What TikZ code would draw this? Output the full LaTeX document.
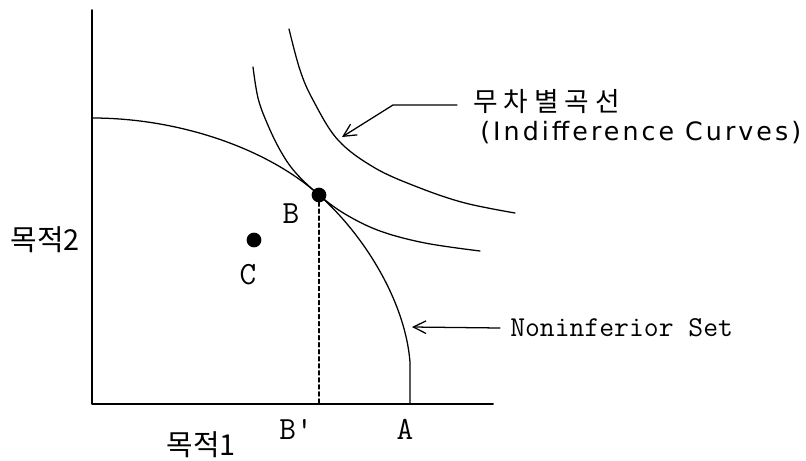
\documentclass[tikz,border=0pt]{standalone}
\usepackage{fontspec}
\newfontfamily\kofont{Noto Sans CJK KR}
\newfontfamily\capfont[LetterSpace=12]{DejaVu Sans}
\usepackage{tikz}
\usetikzlibrary{arrows.meta, calc}

\begin{document}
\begin{tikzpicture}[x=0.025cm, y=-0.025cm, line cap=round, line join=round, >={Straight Barb[length=9pt, width=9pt]}]

  \tikzset{
    axisline/.style={line width=1.4pt},
    curveline/.style={line width=0.9pt},
    ptlabel/.style={inner sep=0pt, font=\ttfamily\fontsize{23}{26}\selectfont},
    kolabel/.style={inner sep=0pt, font=\kofont\fontsize{20.5}{24}\selectfont},
    dot/.style={circle, fill, inner sep=0pt, minimum size=10.5pt}
  }

  \useasboundingbox (0,0) rectangle (806,460);

  % Key points
  \coordinate (O)    at (92,404);
  \coordinate (ytop) at (92,10);
  \coordinate (xend) at (493,404);
  \coordinate (B)    at (319,195);
  \coordinate (Bp)   at (319,404);
  \coordinate (A)    at (410,404);

  % Axes
  \draw[axisline] (ytop) -- (O) -- (xend);

  % Noninferior set
  \draw[curveline] (92,118) .. controls (180,118) and (268,149) .. (B)
                   .. controls (363,234) and (405,300) .. (410,362) -- (A);

  % Indifference curves (inner touches the set at B, outer lies beyond)
  \draw[curveline] plot[smooth, tension=0.6] coordinates
    {(253,67) (258,98) (267,123) (280,150) (295,172) (B) (345,214) (380,231) (425,243) (480,251)};
  \draw[curveline] plot[smooth, tension=0.6] coordinates
    {(289,29) (300,70) (313,100) (338,140) (375,168) (420,188) (465,203) (515,213)};

  % B projected on the axis
  \draw[densely dashed, line width=0.9pt] (B) -- (Bp);

  % Points
  \node[dot] (Bdot) at (B) {};
  \node[dot] (Cdot) at (254,240) {};

  % Labels of points
  \node[ptlabel] (Blabel)  at (291,214) {B};
  \node[ptlabel] (Clabel)  at (248,275) {C};
  \node[ptlabel] (Bplabel) at (296,429) {B\textquotesingle};
  \node[ptlabel] (Alabel)  at (405,429) {A};

  % Axis names
  \node[kolabel] (ylabel) at (45,240) {목적2};
  \node[kolabel] (xlabel) at (201,445) {목적1};

  % Indifference curves callout
  \node[kolabel, anchor=west, font=\kofont\fontsize{19}{22}\selectfont] (iclabel) at (473,101) {무 차 별 곡 선};
  \node[inner sep=0pt, anchor=west, font=\capfont\fontsize{18}{22}\selectfont] (icname) at (480,133) {(Indifference Curves)};
  \coordinate (icstart) at (457,105);
  \coordinate (icbend)  at (393,105);
  \coordinate (ictip)   at (342,137);
  \draw[->, line width=0.9pt] (icstart) -- (icbend) -- (ictip);

  % Noninferior set callout
  \node[anchor=west, inner sep=0pt, font=\ttfamily\fontsize{20.5}{23}\selectfont] (nslabel) at (510,328) {Noninferior Set};
  \coordinate (nstip) at (412,327);
  \draw[->, line width=0.9pt] ($(nslabel.west)+(-10,0)$) -- (nstip);

\end{tikzpicture}
\end{document}
